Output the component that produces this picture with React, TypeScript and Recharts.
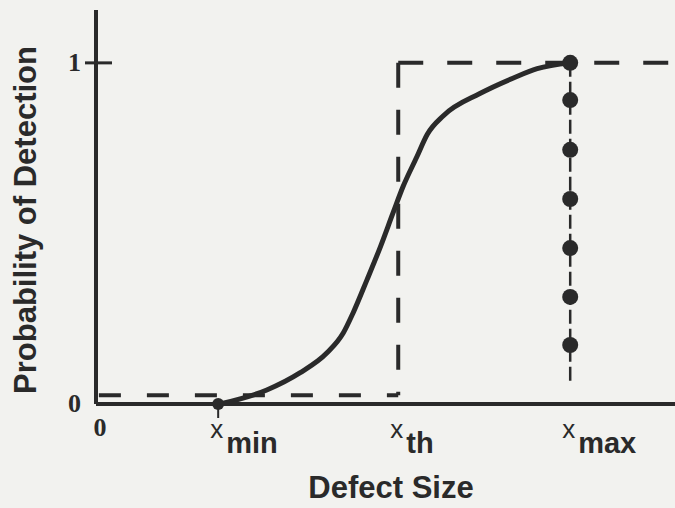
import {
  ComposedChart,
  Label,
  Line,
  Scatter,
  XAxis,
  YAxis,
} from "recharts";

const INK = "#2a2a2a";
const PAPER = "#f2f2ef";
const PLOT_LEFT = 96;
const PLOT_BOTTOM = 404;

// characteristic defect sizes (x units, axis runs 0..10)
const X_MIN = 2.11;
const X_TH = 5.22;
const X_MAX = 8.19;

// probability-of-detection curve
const CURVE_X = [2.14, 2.95, 3.52, 3.99, 4.27, 4.44, 4.68, 4.91, 5.13, 5.3, 5.54, 5.72, 6.0, 6.63, 7.2, 7.62, 8.19];
const CURVE_Y = [0, 0.041, 0.091, 0.15, 0.208, 0.267, 0.364, 0.46, 0.56, 0.636, 0.724, 0.79, 0.845, 0.91, 0.955, 0.983, 1.0];

// ideal step response (dashed)
const STEP_LOW = 0.026;
const STEP_START = 0.05;
const STEP_END = 10;

// sampled points at x_max
const DOT_Y = [1.0, 0.891, 0.745, 0.601, 0.457, 0.314, 0.173];
const DASHDOT_BOTTOM = 0.062;

const X_TICKS = [0, X_MIN, X_TH, X_MAX];
const X_SUBS = ["", "min", "th", "max"];
const Y_TICKS = [0, 1];

const curve = CURVE_X.map((x, i) => ({ x, y: CURVE_Y[i] }));
const stepLow = [
  { x: STEP_START, y: STEP_LOW },
  { x: X_TH, y: STEP_LOW },
];
const stepRise = [
  { x: X_TH, y: 1 },
  { x: X_TH, y: STEP_LOW },
];
const stepHigh = [
  { x: X_TH, y: 1 },
  { x: STEP_END, y: 1 },
];
const maxLine = [
  { x: X_MAX, y: 1 },
  { x: X_MAX, y: DASHDOT_BOTTOM },
];
const maxDots = DOT_Y.map((y) => ({ x: X_MAX, y }));
const minDot = [{ x: X_MIN, y: 0 }];

function XTick(props: any) {
  const { x, payload } = props;
  const i = X_TICKS.indexOf(payload.value);
  if (i === 0) {
    return (
      <text x={x + 4} y={436} textAnchor="middle" fontFamily="Liberation Serif" fontSize={26} fontWeight="bold" fill={INK}>
        0
      </text>
    );
  }
  return (
    <g>
      {payload.value === X_MIN && (
        <line x1={x} x2={x} y1={PLOT_BOTTOM} y2={PLOT_BOTTOM + 14} stroke={INK} strokeWidth={2} />
      )}
      <text x={x - 8} y={438} fill={INK} fontFamily="Liberation Sans">
        <tspan fontSize={26}>x</tspan>
        <tspan dx={3} dy={15} fontSize={29} fontWeight="bold">
          {X_SUBS[i]}
        </tspan>
      </text>
    </g>
  );
}

function YTick(props: any) {
  const { y, payload } = props;
  return (
    <g>
      {payload.value === 1 && (
        <line x1={PLOT_LEFT - 11} x2={PLOT_LEFT + 16} y1={y} y2={y} stroke={INK} strokeWidth={3} />
      )}
      <text x={81} y={y + 8} textAnchor="end" fontFamily="Liberation Serif" fontSize={26} fontWeight="bold" fill={INK}>
        {payload.value}
      </text>
    </g>
  );
}

function YTitle() {
  return (
    <text
      x={36}
      y={220}
      transform="rotate(-90, 36, 220)"
      textAnchor="middle"
      fontFamily="Liberation Sans"
      fontWeight="bold"
      fontSize={31}
      fill={INK}
    >
      Probability of Detection
    </text>
  );
}

export default function App() {
  return (
    <div style={{ width: 675, height: 508, background: PAPER }}>
      <style>{`body{margin:0}`}</style>
      <ComposedChart width={675} height={508} margin={{ top: 10, right: 0, bottom: 44, left: 0 }}>
        <XAxis
          dataKey="x"
          type="number"
          domain={[0, 10]}
          ticks={X_TICKS}
          tick={XTick}
          tickLine={false}
          axisLine={{ stroke: INK, strokeWidth: 4 }}
          height={60}
          interval={0}
        >
          <Label
            value="Defect Size"
            position="bottom"
            offset={6}
            content={() => (
              <text x={391} y={498} textAnchor="middle" fontFamily="Liberation Sans" fontWeight="bold" fontSize={31} fill={INK}>
                Defect Size
              </text>
            )}
          />
        </XAxis>
        <YAxis
          dataKey="y"
          type="number"
          domain={[0, 1.155]}
          ticks={Y_TICKS}
          tick={YTick}
          tickLine={false}
          axisLine={{ stroke: INK, strokeWidth: 4 }}
          width={PLOT_LEFT}
          interval={0}
        >
          <Label content={YTitle} />
        </YAxis>
        <Line data={stepLow} dataKey="y" type="linear" stroke={INK} strokeWidth={4} strokeDasharray="22 26" dot={false} isAnimationActive={false} />
        <Line data={stepRise} dataKey="y" type="linear" stroke={INK} strokeWidth={4} strokeDasharray="25 22" dot={false} isAnimationActive={false} />
        <Line data={stepHigh} dataKey="y" type="linear" stroke={INK} strokeWidth={4} strokeDasharray="25 24" dot={false} isAnimationActive={false} />
        <Line data={maxLine} dataKey="y" type="linear" stroke={INK} strokeWidth={2.5} strokeDasharray="14 5" dot={false} isAnimationActive={false} />
        <Line data={curve} dataKey="y" type="monotone" stroke={INK} strokeWidth={5} dot={false} isAnimationActive={false} />
        <Scatter
          data={maxDots}
          dataKey="y"
          fill={INK}
          isAnimationActive={false}
          shape={(p: any) => <circle cx={p.cx} cy={p.cy} r={8} fill={INK} />}
        />
        <Scatter
          data={minDot}
          dataKey="y"
          fill={INK}
          isAnimationActive={false}
          shape={(p: any) => <circle cx={p.cx} cy={p.cy} r={6} fill={INK} />}
        />
      </ComposedChart>
    </div>
  );
}
